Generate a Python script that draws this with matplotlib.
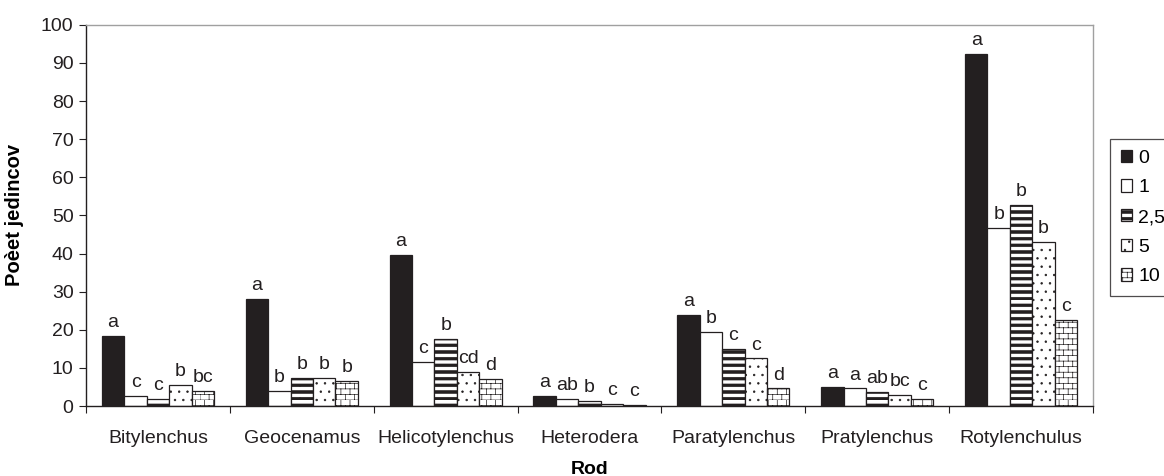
import warnings
import numpy as np
import matplotlib
matplotlib.use('Agg')
import matplotlib.pyplot as plt
import matplotlib.hatch as mhatch
from matplotlib.path import Path

warnings.filterwarnings('ignore', message='.*hatch must consist.*')

# data
rody = ['Bitylenchus', 'Geocenamus', 'Helicotylenchus', 'Heterodera',
        'Paratylenchus', 'Pratylenchus', 'Rotylenchulus']
davky = ['0', '1', '2,5', '5', '10']

v0 = [18.3, 28.2, 39.6, 2.7, 23.8, 5.1, 92.4]
v1 = [2.7, 3.9, 11.6, 1.9, 19.5, 4.6, 46.8]
v25 = [1.8, 7.3, 17.6, 1.4, 14.9, 3.8, 52.8]
v5 = [5.5, 7.4, 9.0, 0.5, 12.5, 2.8, 43.0]
v10 = [3.9, 6.5, 7.0, 0.4, 4.6, 1.8, 22.6]

p0 = ['a', 'a', 'a', 'a', 'a', 'a', 'a']
p1 = ['c', 'b', 'c', 'ab', 'b', 'a', 'b']
p25 = ['c', 'b', 'b', 'b', 'c', 'ab', 'b']
p5 = ['b', 'b', 'cd', 'c', 'c', 'bc', 'b']
p10 = ['bc', 'b', 'd', 'c', 'd', 'c', 'c']


# vlastne srafovanie: hrube pruhy (S) a tehlicky (B)
class StripeHatch(mhatch.HatchPatternBase):
    def __init__(self, hatch, density):
        self.rows = hatch.count('S') * 15
        self.num_vertices = self.rows * 5

    def set_vertices_and_codes(self, vertices, codes):
        k = 0
        for i in range(self.rows):
            y0 = i / self.rows
            y1 = y0 + 0.4 / self.rows
            vertices[k:k + 5] = [(0, y0), (1, y0), (1, y1), (0, y1), (0, y0)]
            codes[k:k + 5] = [Path.MOVETO, Path.LINETO, Path.LINETO,
                              Path.LINETO, Path.CLOSEPOLY]
            k += 5


class BrickHatch(mhatch.HatchPatternBase):
    def __init__(self, hatch, density):
        n = hatch.count('B')
        self.rows = n * 18
        self.cols = n * 11
        self.num_vertices = self.rows * 2 + self.rows * self.cols * 2

    def set_vertices_and_codes(self, vertices, codes):
        k = 0
        for i in range(self.rows):
            y0 = i / self.rows
            y1 = (i + 1) / self.rows
            vertices[k] = (0, y0)
            vertices[k + 1] = (1, y0)
            k += 2
            off = 0 if i % 2 == 0 else 0.5
            for j in range(self.cols):
                x = (j + off) / self.cols
                vertices[k] = (x, y0)
                vertices[k + 1] = (x, y1)
                k += 2
        codes[0::2] = Path.MOVETO
        codes[1::2] = Path.LINETO


if StripeHatch not in mhatch._hatch_types:
    mhatch._hatch_types.append(StripeHatch)
    mhatch._hatch_types.append(BrickHatch)

plt.rcParams['font.family'] = ['Liberation Sans', 'DejaVu Sans']
plt.rcParams['hatch.linewidth'] = 0.5
plt.rcParams['hatch.color'] = '#231f20'

fig = plt.figure(figsize=(11.64, 4.76), dpi=100)
ax = fig.add_axes([0.0739, 0.147, 0.8651, 0.801])

x = np.arange(len(rody))
w = 0.156
serie = [v0, v1, v25, v5, v10]
pismena = [p0, p1, p25, p5, p10]
farby = ['#231f20', 'white', 'white', 'white', 'white']
srafy = [None, None, 'S', '..', 'B']

for i in range(5):
    pos = x + (i - 2) * w
    ax.bar(pos, serie[i], w, color=farby[i], edgecolor='#231f20',
           linewidth=0.9, hatch=srafy[i], label=davky[i])
    for xx, yy, t in zip(pos, serie[i], pismena[i]):
        ax.annotate(t, (xx, yy), xytext=(0, 3.5), textcoords='offset points',
                    ha='center', va='bottom', fontsize=14, color='#231f20')

ax.set_xlim(-0.5, 6.5)
ax.set_ylim(0, 100)
ax.set_yticks(range(0, 101, 10))
ax.set_xticks(np.arange(-0.5, 7, 1))
ax.set_xticklabels([])
ax.set_xticks(x, minor=True)
ax.set_xticklabels(rody, minor=True)
ax.tick_params(axis='x', which='minor', length=0, pad=17, labelsize=14,
               colors='#231f20')
ax.tick_params(axis='x', which='major', length=5, direction='out',
               color='#231f20')
ax.tick_params(axis='y', length=5, direction='out', labelsize=14,
               colors='#231f20', pad=4)

for s in ['left', 'bottom']:
    ax.spines[s].set_color('#231f20')
    ax.spines[s].set_linewidth(1.0)
for s in ['top', 'right']:
    ax.spines[s].set_color('#a0a0a0')
    ax.spines[s].set_linewidth(1.0)

ax.set_xlabel('Rod', fontsize=14, fontweight='bold', labelpad=10)
ax.set_ylabel('Poèet jedincov', fontsize=14.5, fontweight='bold', labelpad=12)

leg = ax.legend(loc='center left', bbox_to_anchor=(1110 / 1164, 1 - 217.5 / 476),
                bbox_transform=fig.transFigure, frameon=True, fancybox=False,
                edgecolor='#231f20', fontsize=14, handlelength=0.6,
                handleheight=0.6, handletextpad=0.3, labelspacing=0.65,
                borderpad=0.55, borderaxespad=0)
leg.get_frame().set_linewidth(0.9)

fig.savefig('out.png', dpi=100)
